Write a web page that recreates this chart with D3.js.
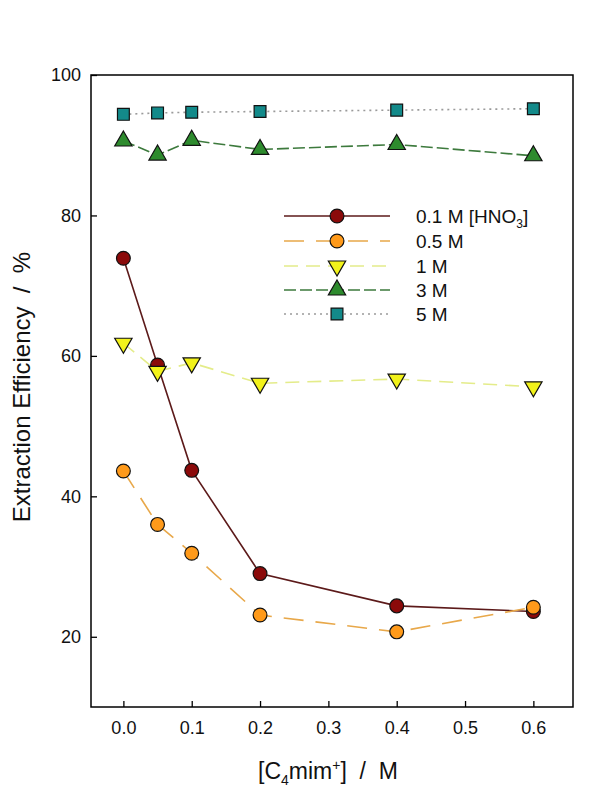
<!DOCTYPE html>
<html><head><meta charset="utf-8">
<script src="https://cdn.jsdelivr.net/npm/d3@7"></script>
<style>body{margin:0;background:#fff;font-family:Arial,"Liberation Sans",sans-serif;} text{white-space:pre;}</style>
</head><body><svg id="c" width="615" height="798"></svg>
<script>
const xVals = [0, 0.05, 0.1, 0.2, 0.4, 0.6];
const s01 = [73.9, 58.7, 43.7, 29.0, 24.4, 23.6];
const s05 = [43.6, 36.0, 31.9, 23.1, 20.7, 24.2];
const s1  = [61.8, 57.8, 59.0, 56.1, 56.7, 55.6];
const s3  = [90.6, 88.6, 90.7, 89.4, 90.1, 88.5];
const s5  = [94.4, 94.6, 94.7, 94.8, 95.0, 95.2];
const seriesNames = ["0.1 M [HNO3]", "0.5 M", "1 M", "3 M", "5 M"];
const xTicks = [0, 0.1, 0.2, 0.3, 0.4, 0.5, 0.6];
const yTicks = [20, 40, 60, 80, 100];

const styles = [
  {line:"#5c1a1a", dash:null, fill:"#8b0a0a", sym:d3.symbolCircle, size:150, rot:0},
  {line:"#e8a84a", dash:"20,12", fill:"#ff9a1a", sym:d3.symbolCircle, size:150, rot:0},
  {line:"#e4ec8a", dash:"14,8", fill:"#f2f21a", sym:d3.symbolTriangle, size:130, rot:180},
  {line:"#3d7a3d", dash:"12,4", fill:"#2e8b2e", sym:d3.symbolTriangle, size:130, rot:0},
  {line:"#9a9a9a", dash:"2,4", fill:"#138a8a", sym:d3.symbolSquare, size:140, rot:0}
];
const data = [s01, s05, s1, s3, s5];

const svg = d3.select("#c");
const L=91, R=573, T=75, B=707;
const x = d3.scaleLinear().domain([-0.0474, 0.658]).range([L, R]);
const y = d3.scaleLinear().domain([10, 100]).range([B, T]);

svg.append("rect").attr("x",L).attr("y",T).attr("width",R-L).attr("height",B-T)
  .attr("fill","none").attr("stroke","#000").attr("stroke-width",1.5);

const xa = svg.append("g").attr("transform",`translate(0,${B})`)
  .call(d3.axisBottom(x).tickValues(xTicks).tickFormat(d3.format(".1f")).tickSizeInner(-6).tickSizeOuter(0));
xa.select(".domain").remove();
xa.selectAll("text").attr("y",14).attr("font-size",18).attr("font-family","Arial, Liberation Sans, sans-serif").attr("fill","#111");
xa.selectAll("line").attr("stroke-width",1.3);

const ya = svg.append("g").attr("transform",`translate(${L},0)`)
  .call(d3.axisLeft(y).tickValues(yTicks).tickSizeInner(-6).tickSizeOuter(0));
ya.select(".domain").remove();
ya.selectAll("text").attr("x",-10).attr("font-size",18).attr("font-family","Arial, Liberation Sans, sans-serif").attr("fill","#111");
ya.selectAll("line").attr("stroke-width",1.3);

const xt = svg.append("text").attr("x",328).attr("y",779).attr("text-anchor","middle")
  .attr("font-size",23).attr("fill","#111");
xt.append("tspan").text("[C");
xt.append("tspan").attr("font-size",14).attr("dy",6).text("4");
xt.append("tspan").attr("dy",-6).text("mim");
xt.append("tspan").attr("font-size",14).attr("dy",-9).text("+");
xt.append("tspan").attr("dy",9).text("]  /  M");

svg.append("text").attr("transform","translate(30,387) rotate(-90)").attr("text-anchor","middle")
  .attr("font-size",24).attr("fill","#111").text("Extraction Efficiency  /  %");

const line = d3.line().x((d,i)=>x(xVals[i])).y(d=>y(d));

data.forEach((vals,k)=>{
  const st = styles[k];
  svg.append("path").datum(vals).attr("d",line).attr("fill","none")
    .attr("stroke",st.line).attr("stroke-width",1.6)
    .attr("stroke-dasharray",st.dash);
});
data.forEach((vals,k)=>{
  const st = styles[k];
  svg.selectAll(null).data(vals).enter().append("path")
    .attr("d",d3.symbol().type(st.sym).size(st.size))
    .attr("transform",(d,i)=>`translate(${x(xVals[i])},${y(d)}) rotate(${st.rot})`)
    .attr("fill",st.fill).attr("stroke","#111").attr("stroke-width",1.2);
});

const legY = [216, 241, 266, 290, 314];
seriesNames.forEach((name,k)=>{
  const st = styles[k];
  const g = svg.append("g");
  g.append("line").attr("x1",284).attr("x2",390).attr("y1",legY[k]).attr("y2",legY[k])
    .attr("stroke",st.line).attr("stroke-width",1.6).attr("stroke-dasharray",st.dash);
  g.append("path").attr("d",d3.symbol().type(st.sym).size(st.size))
    .attr("transform",`translate(337,${legY[k]}) rotate(${st.rot})`)
    .attr("fill",st.fill).attr("stroke","#111").attr("stroke-width",1.2);
  const t = g.append("text").attr("x",416).attr("y",legY[k]+7).attr("font-size",19).attr("fill","#111");
  if (k===0) {
    t.append("tspan").text("0.1 M [HNO");
    t.append("tspan").attr("font-size",12).attr("dy",5).text("3");
    t.append("tspan").attr("dy",-5).text("]");
  } else t.text(name);
});
</script></body></html>
